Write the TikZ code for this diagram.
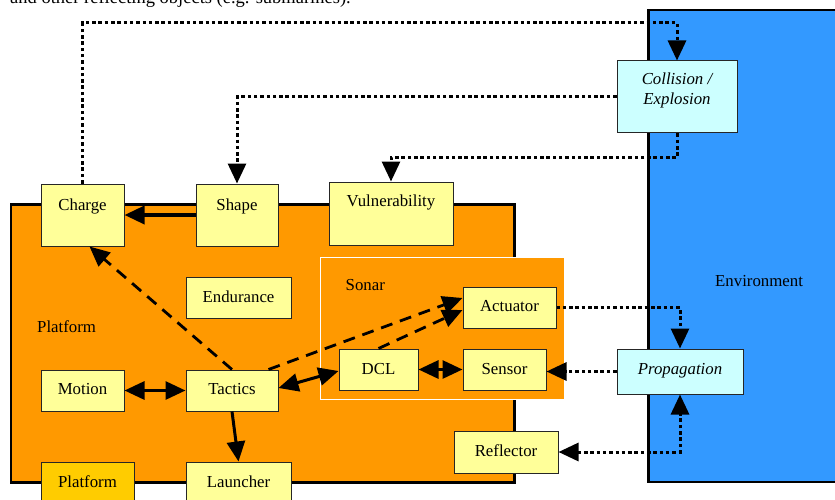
\documentclass[tikz,border=0pt]{standalone}
\usepackage{fontspec}
\setmainfont{Liberation Serif}
\usetikzlibrary{arrows.meta}
\definecolor{orangeP}{HTML}{FF9900}
\definecolor{lyel}{HTML}{FFFF99}
\definecolor{dyel}{HTML}{FFCC00}
\definecolor{lcyan}{HTML}{CCFFFF}
\definecolor{envblue}{HTML}{3399FF}
\begin{document}
\begin{tikzpicture}[x=1pt,y=-1pt,
  font=\fontsize{16.8}{19.5}\selectfont,
  >={Triangle[length=20pt,width=18pt]},
  box/.style={draw=black!85, line width=1pt, fill=lyel, inner sep=0pt, anchor=base},
  ebox/.style={box, fill=lcyan, font=\fontsize{16.8}{19.5}\selectfont\itshape},
  lbl/.style={inner sep=0pt, anchor=base west},
  dotarr/.style={line width=3pt, dash pattern=on 3.5pt off 2.8pt, ->},
  dasharr/.style={line width=2.8pt, dash pattern=on 12pt off 8pt, ->},
  solarr/.style={line width=3pt, ->}
]
\useasboundingbox (0,0) rectangle (835,500);
\clip (0,0) rectangle (835,500);

\node[lbl, font=\fontsize{18.5}{22}\selectfont] (toptext) at (10,3.5) {and other reflecting objects (e.g. submarines).};

% large regions
\draw[fill=orangeP, line width=2.8pt] (11,204.7) rectangle (514.7,482.3);
\draw[fill=orangeP, draw=white, line width=1pt] (320.5,257.5) rectangle (564.5,399.5);
\draw[fill=envblue, line width=2.8pt] (648.5,10) rectangle (870,482);

\node[lbl] (platformlbl) at (37,332) {Platform};
\node[lbl] (sonarlbl) at (345.5,290.5) {Sonar};
\node[lbl] (envlbl) at (715,286.7) {Environment};

% boxes
\node[box, minimum width=83pt, text height=26pt, text depth=36pt] (Charge) at (82.5,210) {Charge};
\node[box, minimum width=82pt, text height=26pt, text depth=36pt] (Shape) at (237,210) {Shape};
\node[box, minimum width=124pt, text height=24.5pt, text depth=38.5pt] (Vulnerability) at (391,206.5) {Vulnerability};
\node[box, minimum width=105pt, text height=25.3pt, text depth=15.7pt] (Endurance) at (238.5,302.3) {Endurance};
\node[box, minimum width=93pt, text height=24.7pt, text depth=16.3pt] (Actuator) at (509.5,311.7) {Actuator};
\node[box, minimum width=83pt, text height=24.3pt, text depth=16.7pt] (Motion) at (82.5,394.3) {Motion};
\node[box, minimum width=92pt, text height=24.3pt, text depth=16.7pt] (Tactics) at (232,394.3) {Tactics};
\node[box, minimum width=79pt, text height=25.3pt, text depth=15.7pt] (DCL) at (378.5,374.3) {DCL};
\node[box, minimum width=83pt, text height=25.3pt, text depth=15.7pt] (Sensor) at (504.5,374.3) {Sensor};
\node[box, minimum width=104pt, text height=25.7pt, text depth=16.3pt] (Reflector) at (506,456.7) {Reflector};
\node[box, fill=dyel, minimum width=93pt, text height=25.3pt, text depth=16.7pt] (PlatformBox) at (87.5,487.3) {Platform};
\node[box, minimum width=105pt, text height=25.3pt, text depth=16.7pt] (Launcher) at (238.5,487.3) {Launcher};
\node[ebox, minimum width=120pt, text height=24pt, text depth=48pt] (Collision) at (677,85) {\begin{tabular}[t]{@{}c@{}}Collision /\\Explosion\end{tabular}};
\node[ebox, minimum width=126pt, text height=25.3pt, text depth=19.7pt] (Propagation) at (680,374.3) {Propagation};

% connectors
\coordinate (t1) at (677,23);
\draw[dotarr] (Charge.north) |- (t1) -- (Collision.north);
\draw[dotarr] (Collision.west) -| (Shape.north);
\coordinate (t3) at (677,157.5);
\draw[dotarr] (Collision.south) -- (t3) -| (Vulnerability.north);
\draw[solarr, line width=3.5pt] (Shape.west) -- (Charge.east);
\draw[dasharr] (Tactics.north) -- ([xshift=7pt]Charge.south);
\draw[dasharr] ([xshift=-10pt]Tactics.north east) -- ([yshift=9.5pt]Actuator.west);
\draw[dasharr] (DCL.north) -- ([yshift=-2.5pt]Actuator.west);
\draw[solarr, <->] ([yshift=2.5pt]Tactics.east) -- ([yshift=-1.5pt]DCL.west);
\draw[solarr, <->] (Motion.east) -- (Tactics.west);
\draw[solarr] (Tactics.south) -- (Launcher.north);
\draw[solarr, <->] (DCL.east) -- (Sensor.west);
\draw[dotarr] (Actuator.east) -| (Propagation.north);
\draw[dotarr] (Propagation.west) -- (Propagation.west -| Sensor.east);
\draw[dotarr, <->] (Reflector.east) -| (Propagation.south);
\end{tikzpicture}
\end{document}
